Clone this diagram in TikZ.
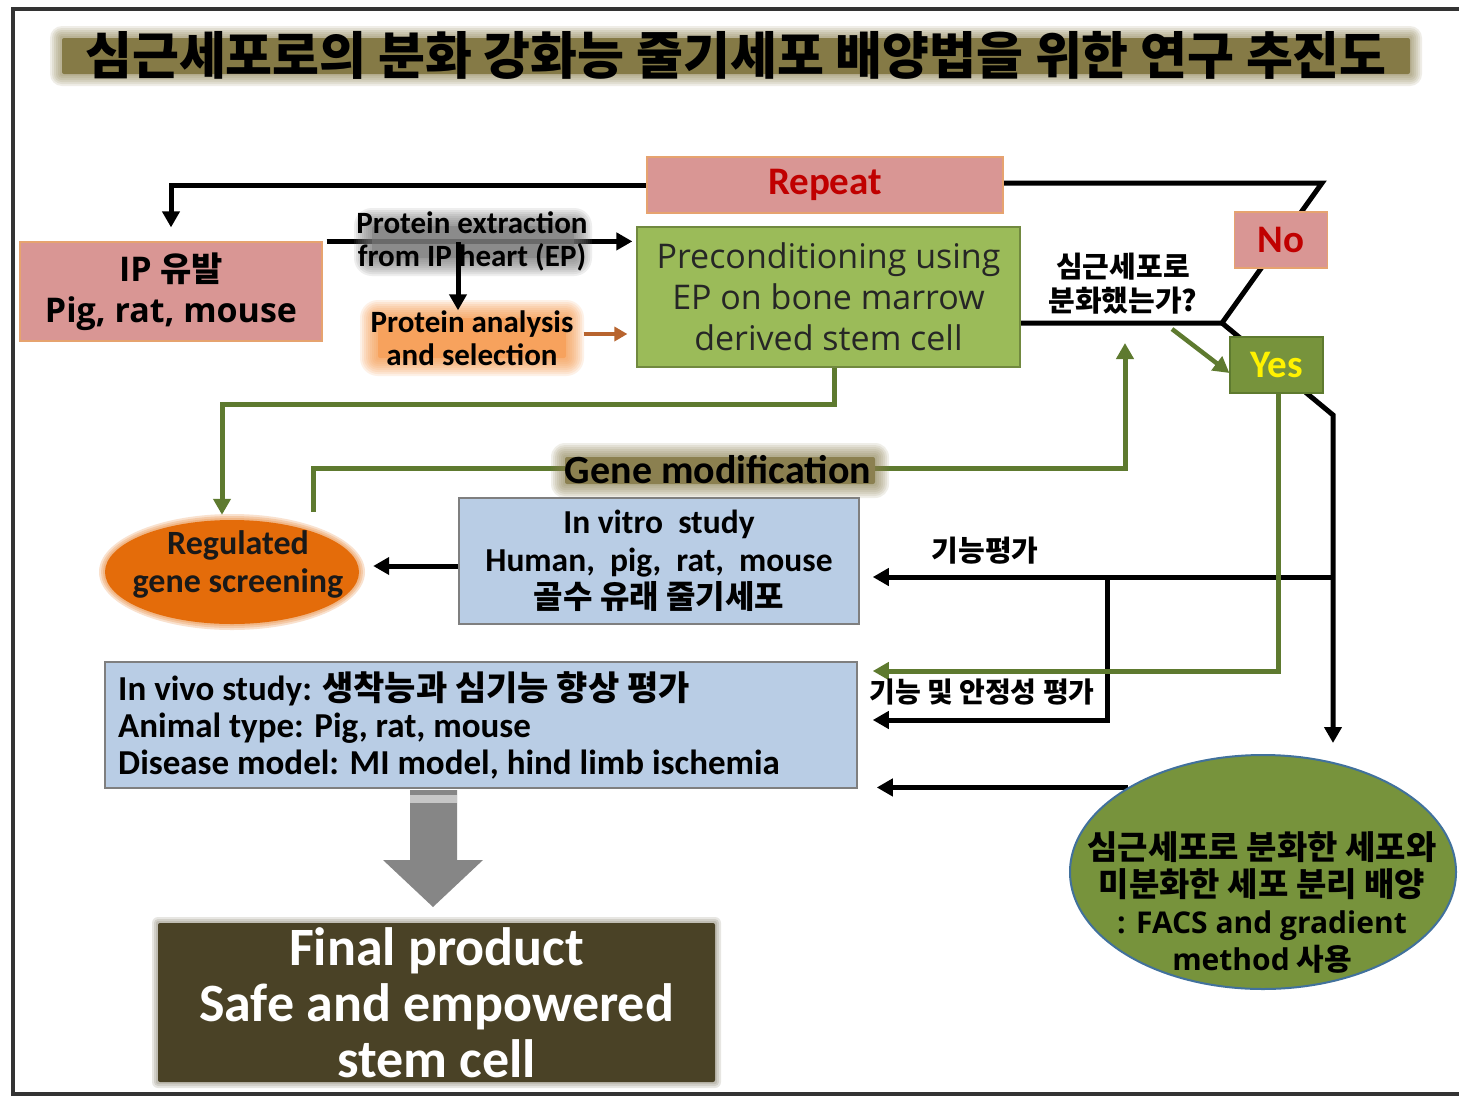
\documentclass[tikz,border=0pt]{standalone}
\usepackage{fontspec}
\setmainfont{Carlito}
\newfontfamily\kr{Noto Sans CJK KR}
\newfontfamily\os{Open Sans}
\usetikzlibrary{arrows.meta,calc,shapes.geometric}
\definecolor{pinkc}{HTML}{D99694}
\definecolor{pinkb}{HTML}{E6A36F}
\definecolor{greenc}{HTML}{9BBB59}
\definecolor{greenb}{HTML}{71893F}
\definecolor{bluec}{HTML}{B9CDE5}
\definecolor{blueb}{HTML}{7F7F7F}
\definecolor{gline}{HTML}{5E7A2F}
\definecolor{yesc}{HTML}{77933C}
\definecolor{orc}{HTML}{E46C0A}
\definecolor{geb}{HTML}{41719C}
\definecolor{finc}{HTML}{4A4226}
\definecolor{redt}{HTML}{C00000}
\definecolor{bann}{HTML}{857A46}
\definecolor{pexg}{HTML}{7C7C7C}
\definecolor{anag}{HTML}{F79646}
\definecolor{anaarr}{HTML}{B8642E}
\definecolor{gmg}{HTML}{8B8050}
\definecolor{framec}{HTML}{333333}
\pgfdeclarelayer{paper}
\pgfdeclarelayer{lines}
\pgfdeclarelayer{glow}
\pgfdeclarelayer{top}
\pgfsetlayers{paper,lines,glow,main,top}
% soft-edged rectangle: colour, x1, y1, x2, y2, steps, core opacity
\newcommand\glowrect[7]{%
  \foreach \k in {1,...,#6}{\fill[#1,opacity=0.13,rounded corners={\k*2pt}] ({#2-2*\k},{#3-2*\k}) rectangle ({#4+2*\k},{#5+2*\k});}
  \fill[#1,opacity=#7,rounded corners=2pt] (#2,#3) rectangle (#4,#5);}
\tikzset{
  blk/.style={line width=5pt, draw=black, -{Triangle[length=16pt,width=17pt]}},
  blkline/.style={line width=5pt, draw=black},
  grn/.style={line width=5pt, draw=gline, -{Triangle[length=16pt,width=17pt]}},
  pinkbox/.style={rectangle, fill=pinkc, draw=pinkb, line width=1.2pt, inner sep=0pt},
  greenbox/.style={rectangle, fill=greenc, draw=greenb, line width=1.2pt, inner sep=0pt},
  bluebox/.style={rectangle, fill=bluec, draw=blueb, line width=1.5pt, inner sep=0pt},
  lbl/.style={inner sep=0pt, align=center},
}
\begin{document}
\begin{tikzpicture}[x=1pt,y=-1pt]
\useasboundingbox (0,0) rectangle (1459,1098);
\begin{pgfonlayer}{paper}
\fill[white] (0,0) rectangle (1459,1098);
\end{pgfonlayer}
% frame
\draw[framec, line width=4pt] (1461,9) -- (13,9) -- (13,1094) -- (1461,1094);

% ---------- nodes ----------
\node[lbl, font=\kr\bfseries\fontsize{51}{56}\selectfont] (title) at (736,55) {심근세포로의 분화 강화능 줄기세포 배양법을 위한 연구 추진도};

\node[pinkbox, minimum width=356, minimum height=56, font=\bfseries\fontsize{39}{42}\selectfont, text=redt] (rep) at (825,185) {Repeat};

\node[pinkbox, minimum width=302, minimum height=99, align=center, font=\os\bfseries\fontsize{34}{41}\selectfont] (ip) at (171,291.5) {IP {\kr 유발}\\Pig,\ rat,\ mouse};

\node[greenbox, minimum width=383, minimum height=140, align=center, text={black!85}, font=\os\fontsize{34}{41}\selectfont] (pre) at (828.5,297) {Preconditioning using\\EP on bone marrow\\derived stem cell};

\node[lbl, font=\bfseries\fontsize{31}{33}\selectfont] (pex) at (472,241) {Protein extraction\\from IP heart (EP)};
\node[lbl, font=\bfseries\fontsize{31}{33}\selectfont] (ana) at (472,338) {Protein analysis\\and selection};

\node[lbl, font=\kr\bfseries\fontsize{29}{34}\selectfont] (q) at (1123,284) {심근세포로\\분화했는가?};

\node[pinkbox, minimum width=93, minimum height=56, font=\bfseries\fontsize{39}{42}\selectfont, text=redt] (no) at (1281,240) {No};
\node[rectangle, fill=yesc, draw=gline, line width=1.2pt, inner sep=0pt, minimum width=93, minimum height=56, font=\bfseries\fontsize{39}{42}\selectfont, text=yellow] (yes) at (1276.5,365) {Yes};

\node[ellipse, minimum width=264, minimum height=110, inner sep=0pt] (gs) at (232,572) {};
\node[lbl, text={black!90}, font=\bfseries\fontsize{34}{38}\selectfont] (gst) at (238,564) {Regulated\\gene screening};

\node[lbl, font=\bfseries\fontsize{40}{42}\selectfont] (gm) at (718,470) {Gene modification};

\node[bluebox, minimum width=400, minimum height=126, align=center, font=\bfseries\fontsize{33.5}{37.5}\selectfont] (vitro) at (659,561) {In vitro\ \ study\\Human,\ \ pig,\ \ rat,\ \ mouse\\{\kr\fontsize{32}{37.5}\selectfont 골수\ 유래\ 줄기세포}};

\node[bluebox, minimum width=752, minimum height=126] (vivo) at (481,725) {};
\node[lbl, anchor=west, align=left, font=\bfseries\fontsize{35}{37}\selectfont] (vivot) at (118,725) {In vivo study: {\kr\fontsize{34}{37}\selectfont 생착능과\ 심기능\ 향상\ 평가}\\Animal type: Pig,\ rat,\ mouse\\Disease model: MI model,\ hind limb ischemia};

\node[ellipse, fill=yesc, draw=geb, line width=2pt, minimum width=386, minimum height=234, inner sep=0pt] (ge) at (1263,872) {};
\node[lbl, font=\bfseries\fontsize{30}{37}\selectfont] (get) at (1262,902) {{\kr\fontsize{33}{37}\selectfont 심근세포로\ 분화한\ 세포와}\\{\kr\fontsize{33}{37}\selectfont 미분화한\ 세포\ 분리\ 배양}\\{\os : FACS and gradient}\\{\os method} {\kr 사용}};

\node[lbl, font=\kr\bfseries\fontsize{29}{30}\selectfont] (l1) at (985,551) {기능평가};
\node[lbl, font=\kr\bfseries\fontsize{28}{30}\selectfont] (l2) at (982,692) {기능\ 및\ 안정성\ 평가};

\node[rectangle, minimum width=563, minimum height=165, inner sep=0pt, align=center, text=white, font=\bfseries\fontsize{54}{56}\selectfont] (fin) at (436.5,1002.5) {Final product\\Safe and empowered\\stem cell};

% ---------- glows ----------
\begin{pgfonlayer}{glow}
  \glowrect{bann}{62}{38}{1410}{74}{6}{1}
  \glowrect{pexg}{372}{226}{574}{258}{9}{0.55}
  \glowrect{anag}{378}{318}{566}{358}{9}{0.55}
  \glowrect{gmg}{565}{457}{875}{484}{7}{1}
  \glowrect{finc}{158}{923}{715}{1082}{3}{1}
  \foreach \k in {1,...,3}{\fill[orc,opacity=0.2] (232,572) ellipse [x radius={127pt+2pt*\k}, y radius={52pt+2pt*\k}];}
  \fill[orc] (232,572) ellipse [x radius=127pt, y radius=52pt];
\end{pgfonlayer}

% ---------- connectors ----------
\begin{pgfonlayer}{lines}
  \draw[blk, shorten >=14pt] (rep.west) -| (ip.north);
  \coordinate (s0) at ($(ip.north east)+(4,0)$);
  \draw[blk, shorten >=4pt] (s0) -- (s0 -| pre.west);
  \draw[line width=4pt, draw=anaarr, -{Triangle[length=13pt,width=14pt]}, shorten >=9pt] ($(ana.east)+(10,-4)$) -- ($(ana.east -| pre.west)+(0,-4)$);
  \coordinate (d) at (1222,323);
  \coordinate (tp) at (1322,183);
  \draw[blkline] (pre.east |- d) -- (d) -- (tp) -- (tp -| rep.east);
  \coordinate (dy) at (1333,415);
  \draw[blk, shorten >=11pt] (d) -- (dy) -- (dy |- ge.north);
  \coordinate (h1) at (1333,577);
  \draw[blk, shorten >=13pt] (h1) -- (h1 -| vitro.east);
  \coordinate (b1) at (1107,577);
  \coordinate (b2) at (1107,720);
  \draw[blk, shorten >=15pt] (b1) -- (b2) -- (b2 -| vivo.east);
  \draw[blk, shorten >=19pt] (ge.148.6) -- (ge.148.6 -| vivo.east);
  \draw[blk, shorten >=9pt] ($(vitro.west)+(0,5)$) -- ($(vitro.west -| gs.east)+(0,5)$);
  \coordinate (g0) at (1172,329);
  \draw[grn, line width=4.5pt] (g0) -- ($(yes.west)+(0,8)$);
  \coordinate (gy) at (1278,671);
  \draw[grn, shorten >=15pt] (yes.south -| gy) -- (gy) -- (gy -| vivo.east);
  \coordinate (gm2) at (1125,468);
  \draw[grn] ($(gs.north)+(81,-5)$) |- (gm2) -- ($(gm2 |- d)+(0,20)$);
\end{pgfonlayer}

\begin{pgfonlayer}{top}
  \coordinate (sp) at (458,242);
  \draw[blk] (sp) -- (sp |- ana.north);
  \coordinate (gk) at (222,404);
  \draw[grn] ($(pre.south)+(6,0)$) |- (gk) -- ($(gk |- gs.north)+(0,-2)$);
\end{pgfonlayer}

% big gray arrow from in vivo to final product
\fill[gray!95] (410,790) -- (457,790) -- (457,860) -- (483,860) -- (433,907) -- (383,860) -- (410,860) -- cycle;
\fill[gray!45] (410,795) rectangle (457,803);
\end{tikzpicture}
\end{document}
